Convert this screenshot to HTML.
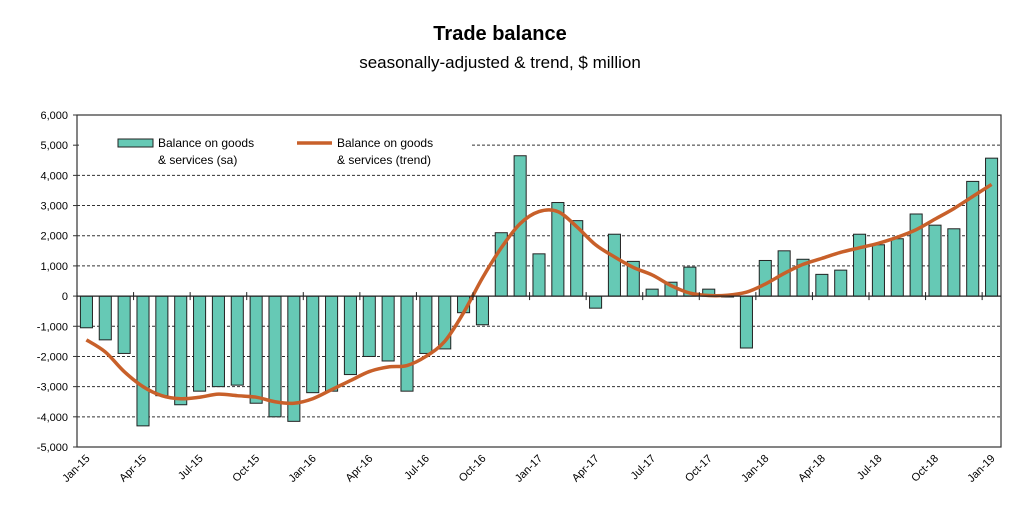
<!DOCTYPE html>
<html><head><meta charset="utf-8"><style>
body{margin:0;background:#fff;font-family:"Liberation Sans",sans-serif;}
svg text{font-family:"Liberation Sans",sans-serif;}
</style></head><body>
<svg id="chart" width="1025" height="519">
<text x="500" y="40" text-anchor="middle" font-size="20" font-weight="bold">Trade balance</text>
<text x="500" y="68" text-anchor="middle" font-size="17">seasonally-adjusted &amp; trend, $ million</text>
<g id="grid"></g><g id="bars"></g><g id="line"></g><g id="axes"></g>
<g>
<rect x="79" y="128" width="393" height="45" fill="#fff"/>
<rect x="118" y="139" width="35" height="8" fill="#66c9b5" stroke="#222" stroke-width="1"/>
<text x="158" y="147" font-size="12">Balance on goods</text>
<text x="158" y="164" font-size="12">&amp; services (sa)</text>
<line x1="297" y1="143" x2="332" y2="143" stroke="#c8602a" stroke-width="3.5"/>
<text x="337" y="147" font-size="12">Balance on goods</text>
<text x="337" y="164" font-size="12">&amp; services (trend)</text>
</g>
</svg>
<script>
const months=["Jan","Feb","Mar","Apr","May","Jun","Jul","Aug","Sep","Oct","Nov","Dec"];
const categories=[];for(let y=15;y<=19;y++)for(const m of months){if(y===19&&m!=="Jan")break;categories.push(m+"-"+y);}
const saValues=[-1050,-1450,-1900,-4300,-3300,-3600,-3150,-3000,-2950,-3550,-4000,-4150,-3200,-3150,-2600,-2000,-2150,-3150,-1900,-1750,-550,-950,2100,4650,1400,3100,2500,-400,2050,1150,230,460,960,230,-30,-1720,1180,1500,1220,720,860,2050,1700,1900,2720,2350,2230,3800,4570];
const trendValues=[-1450,-1850,-2500,-3000,-3300,-3400,-3350,-3250,-3300,-3350,-3500,-3550,-3400,-3100,-2800,-2500,-2350,-2300,-2000,-1500,-550,600,1600,2400,2800,2800,2300,1700,1300,950,700,350,100,20,30,130,400,750,1050,1250,1450,1600,1750,1950,2200,2550,2900,3300,3700];
const yTicks=[6000,5000,4000,3000,2000,1000,0,-1000,-2000,-3000,-4000,-5000];
const X0=77,X1=1001,Y0=115,Y1=447,YMAX=6000,YMIN=-5000;
const NS="http://www.w3.org/2000/svg";
const band=(X1-X0)/categories.length;
const xc=i=>X0+band*(i+0.5);
const y=v=>Y0+(YMAX-v)/(YMAX-YMIN)*(Y1-Y0);
function mk(tag,attrs,parent){const e=document.createElementNS(NS,tag);for(const k in attrs)e.setAttribute(k,attrs[k]);document.getElementById(parent).appendChild(e);return e;}
const fmt=v=>v.toLocaleString("en-US");
yTicks.forEach(t=>{
  if(t!==0&&t!==YMAX&&t!==YMIN){const g=mk("line",{x1:X0,x2:X1,y1:y(t),y2:y(t),stroke:"#333","stroke-width":1,"stroke-dasharray":"3,2"},"grid");
  
  }
  const tk=mk("line",{x1:X0-4,x2:X0,y1:y(t),y2:y(t),stroke:"#333"},"axes");
  
  
  const lb=mk("text",{x:X0-9,y:y(t)+4,"text-anchor":"end","font-size":11},"axes");lb.textContent=fmt(t);
  
  
});
saValues.forEach((v,i)=>{
  const w=band*0.64;const b=mk("rect",{x:xc(i)-w/2,y:Math.min(y(v),y(0)),width:w,height:Math.abs(y(v)-y(0)),fill:"#66c9b5",stroke:"#222","stroke-width":1},"bars");
  
  
});
const pts=trendValues.map((v,i)=>[xc(i),y(v)]);
let d="M"+pts[0][0]+","+pts[0][1];
for(let i=0;i<pts.length-1;i++){const p0=pts[Math.max(0,i-1)],p1=pts[i],p2=pts[i+1],p3=pts[Math.min(pts.length-1,i+2)];
d+=" C"+(p1[0]+(p2[0]-p0[0])/6)+","+(p1[1]+(p2[1]-p0[1])/6)+" "+(p2[0]-(p3[0]-p1[0])/6)+","+(p2[1]-(p3[1]-p1[1])/6)+" "+p2[0]+","+p2[1];}
const ln=mk("path",{d:d,fill:"none",stroke:"#c8602a","stroke-width":3.5,"stroke-linejoin":"round"},"line");


const fr=mk("rect",{x:X0,y:Y0,width:X1-X0,height:Y1-Y0,fill:"none",stroke:"#333","stroke-width":1.2},"axes");


const zl=mk("line",{x1:X0,x2:X1,y1:y(0),y2:y(0),stroke:"#222","stroke-width":1.2},"axes");


categories.forEach((c,i)=>{
  if(i%3!==0)return;
  const xt=X0+band*i;
  const tk=mk("line",{x1:xt,x2:xt,y1:y(0)-4,y2:y(0)+4,stroke:"#222"},"axes");
  
  
  const lx=xc(i)+4,ly=Y1+12;
  const t=mk("text",{x:lx,y:ly,"text-anchor":"end","font-size":11,transform:"rotate(-45 "+lx+" "+ly+")"},"axes");t.textContent=c;
  
  
});
</script>
</body></html>
